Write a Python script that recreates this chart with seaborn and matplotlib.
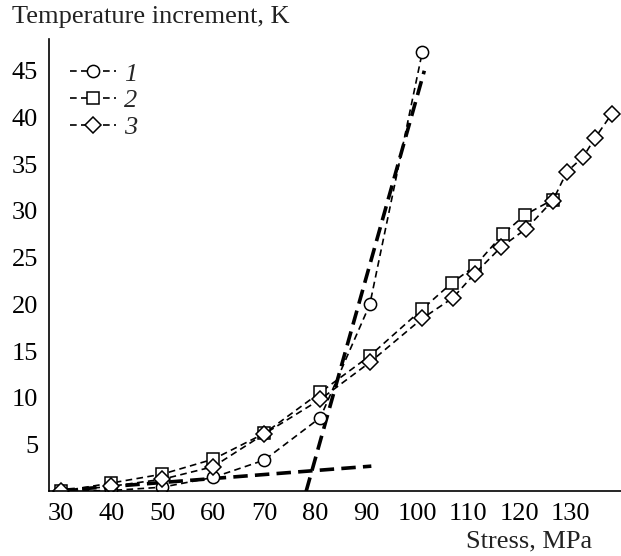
import matplotlib
matplotlib.use("Agg")
import matplotlib.pyplot as plt
import seaborn as sns
import pandas as pd

# Series 1 (circles)
s1_x = [30, 40, 50, 60, 70, 81, 90.7, 101]
s1_y = [0.0, 0.1, 0.45, 1.5, 3.35, 7.9, 20.0, 47.0]
# Series 2 (squares)
s2_x = [30, 40, 50, 60, 70, 81, 90.7, 101, 106.8, 111.3, 116.8, 121.2, 126.6]
s2_y = [0.0, 0.9, 1.85, 3.45, 6.2, 10.6, 14.5, 19.5, 22.3, 24.1, 27.5, 29.6, 31.2]
# Series 3 (diamonds)
s3_x = [30, 40, 50, 60, 70, 81, 90.7, 101, 107, 111.3, 116.4, 121.4, 126.6, 129.4, 132.6, 134.9, 138.2]
s3_y = [0.0, 0.55, 1.3, 2.65, 6.15, 9.85, 13.8, 18.5, 20.7, 23.3, 26.1, 28.1, 31.1, 34.2, 35.8, 37.8, 40.4]
# Tangent lines (thick dashed)
low_x = [30, 91]
low_y = [0.1, 2.7]
steep_x = [78.2, 101.4]
steep_y = [0.0, 45.0]

labels = ["1", "2", "3"]
x_ticks = [30, 40, 50, 60, 70, 80, 90, 100, 110, 120, 130]
y_ticks = [5, 10, 15, 20, 25, 30, 35, 40, 45]

sns.set_style("white")
plt.rcParams['font.family'] = ['Liberation Serif', 'DejaVu Serif']

fig = plt.figure(figsize=(6.21, 5.56), dpi=100)
ax = fig.add_axes([0.0794, 0.1162, 0.9206, 0.8137])

mk = dict(color="black", linestyle=(0, (4, 2.6)), linewidth=1.2,
          markerfacecolor="white", markeredgecolor="black", markersize=8.8,
          markeredgewidth=1.1, sort=False)

# thick tangent lines
sns.lineplot(x=low_x, y=low_y, ax=ax, color="black", linewidth=2.6,
             linestyle=(0, (4, 2)), sort=False)
sns.lineplot(x=steep_x, y=steep_y, ax=ax, color="black", linewidth=2.6,
             linestyle=(0, (4, 2)), sort=False)

sns.lineplot(x=s1_x, y=s1_y, ax=ax, marker="o", label=labels[0], **mk)
sns.lineplot(x=s2_x, y=s2_y, ax=ax, marker="s", label=labels[1], **mk)
sns.lineplot(x=s3_x, y=s3_y, ax=ax, marker="D", label=labels[2],
             **{**mk, "markersize": 7.8})

ax.set_xlim(27.8, 140)
ax.set_ylim(0, 48.4)
ax.set_xticks(x_ticks)
ax.set_yticks(y_ticks)
ax.set_xticklabels([str(t) for t in x_ticks])
ax.set_yticklabels([str(t) for t in y_ticks])
ax.tick_params(direction="in", length=7, width=1.1, labelsize=19, colors="black")
ax.tick_params(axis="y", pad=8)
ax.tick_params(axis="x", pad=8.5)
for s in ["top", "right"]:
    ax.spines[s].set_visible(False)
for s in ["left", "bottom"]:
    ax.spines[s].set_color("black")
    ax.spines[s].set_linewidth(1.2)
ax.set_xlabel("")
ax.set_ylabel("")

fig.text(12 / 621, 1 - 17 / 556, "Temperature increment, K", fontsize=19,
         ha="left", va="center", color="#222222")
fig.text(592 / 621, 1 - 541 / 556, "Stress, MPa", fontsize=19,
         ha="right", va="center", color="#222222")

leg = ax.legend(loc="upper left", bbox_to_anchor=(0.018, 0.972), frameon=False,
                prop={"style": "italic", "size": 19}, handlelength=1.75,
                handletextpad=0.3, labelspacing=0.12, borderaxespad=0)

fig.savefig("out.png", dpi=100)
